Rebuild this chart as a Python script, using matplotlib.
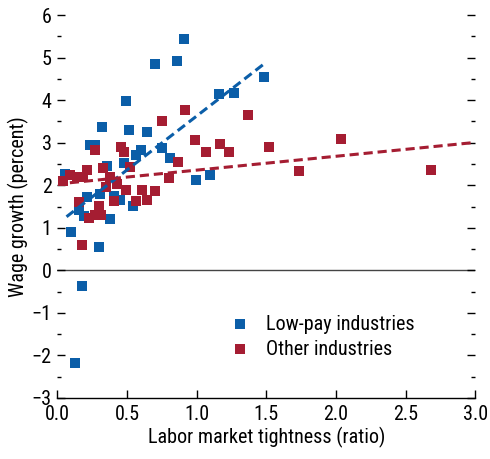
import numpy as np
import matplotlib.pyplot as plt
from matplotlib.ticker import MultipleLocator
from matplotlib import font_manager

names = {f.name for f in font_manager.fontManager.ttflist}
fam = [n for n in ['Liberation Sans Narrow', 'DejaVu Sans Condensed', 'Roboto Condensed',
                   'Liberation Sans'] if n in names]
plt.rcParams['font.family'] = fam + ['DejaVu Sans']

# low-pay industries
low_x = [0.909, 0.698, 0.856, 1.16, 1.267, 1.48, 0.49, 0.324, 0.515, 0.647,
         0.233, 0.27, 0.604, 0.568, 0.748, 0.808, 0.477, 0.353, 0.994, 1.095,
         0.054, 0.21, 0.305, 0.41, 0.45, 0.544, 0.157, 0.19, 0.377, 0.095,
         0.296, 0.176, 0.126]
low_y = [5.43, 4.85, 4.92, 4.14, 4.17, 4.55, 3.99, 3.36, 3.29, 3.26,
         2.94, 2.94, 2.82, 2.72, 2.87, 2.63, 2.52, 2.46, 2.12, 2.24,
         2.26, 1.72, 1.80, 1.74, 1.66, 1.51, 1.43, 1.27, 1.20, 0.90,
         0.55, -0.37, -2.17]

# other industries
oth_x = [0.042, 0.09, 0.138, 0.185, 0.21, 0.33, 0.38, 0.35, 0.425, 0.49,
         0.607, 0.70, 0.154, 0.405, 0.568, 0.647, 0.296, 0.23, 0.27, 0.31,
         0.174, 0.798, 0.865, 1.07, 1.233, 1.167, 0.985, 0.917, 0.75, 1.37,
         0.267, 0.456, 0.477, 0.52, 1.518, 1.734, 2.033, 2.68]
oth_y = [2.09, 2.25, 2.20, 2.20, 2.35, 2.40, 2.20, 1.97, 2.02, 1.88,
         1.88, 1.86, 1.61, 1.62, 1.62, 1.65, 1.52, 1.22, 1.30, 1.30,
         0.59, 2.17, 2.55, 2.79, 2.79, 2.96, 3.07, 3.76, 3.52, 3.66,
         2.82, 2.89, 2.78, 2.44, 2.89, 2.33, 3.09, 2.35]

# fitted lines: slope, intercept, x range
low_fit = (2.535, 1.093, 0.066, 1.49)
oth_fit = (0.326, 2.03, 0.09, 3.0)

blue = '#0b5ea8'
red = '#a51d32'

fig = plt.figure(figsize=(4.9, 4.59), dpi=100)
ax = fig.add_axes([0.117, 0.133, 0.853, 0.834])

ax.axhline(0, color='#444444', linewidth=1.0, zorder=1)

ax.scatter(low_x, low_y, marker='s', s=56, color=blue, linewidths=0,
           label='Low-pay industries', zorder=3)
ax.scatter(oth_x, oth_y, marker='s', s=56, color=red, linewidths=0,
           label='Other industries', zorder=3)

for (m, b, x0, x1), c in [(low_fit, blue), (oth_fit, red)]:
    xs = np.array([x0, x1])
    ax.plot(xs, m * xs + b, color=c, linestyle=(0, (3, 1.6)), linewidth=2.2, zorder=4)

ax.set_xlim(0, 3)
ax.set_ylim(-3, 6)
ax.xaxis.set_major_locator(MultipleLocator(0.5))
ax.yaxis.set_major_locator(MultipleLocator(1))
ax.yaxis.set_minor_locator(MultipleLocator(0.5))
ax.xaxis.set_major_formatter(plt.FuncFormatter(lambda v, p: f'{v:.1f}'))
ax.yaxis.set_major_formatter(plt.FuncFormatter(lambda v, p: f'{int(v)}'.replace('-', '\u2212')))

for s in ['left', 'right', 'top']:
    ax.spines[s].set_visible(False)
ax.spines['bottom'].set_linewidth(1.0)

ax.tick_params(axis='y', which='major', direction='in', length=6, width=1,
               left=True, right=True, labelsize=14.5, pad=4)
ax.tick_params(axis='y', which='minor', direction='in', length=3, width=1,
               left=True, right=True)
ax.tick_params(axis='x', which='major', direction='in', length=6, width=1,
               labelsize=14.5, pad=5)

ax.set_xlabel('Labor market tightness (ratio)', fontsize=14.5, labelpad=2)
ax.set_ylabel('Wage growth (percent)', fontsize=14.5, labelpad=2)

ax.legend(loc='center left', bbox_to_anchor=(0.345, 0.16), frameon=False,
          fontsize=14.5, handletextpad=0.3, labelspacing=0.3, scatterpoints=1,
          markerscale=0.9)

fig.savefig('out.png', dpi=100)
